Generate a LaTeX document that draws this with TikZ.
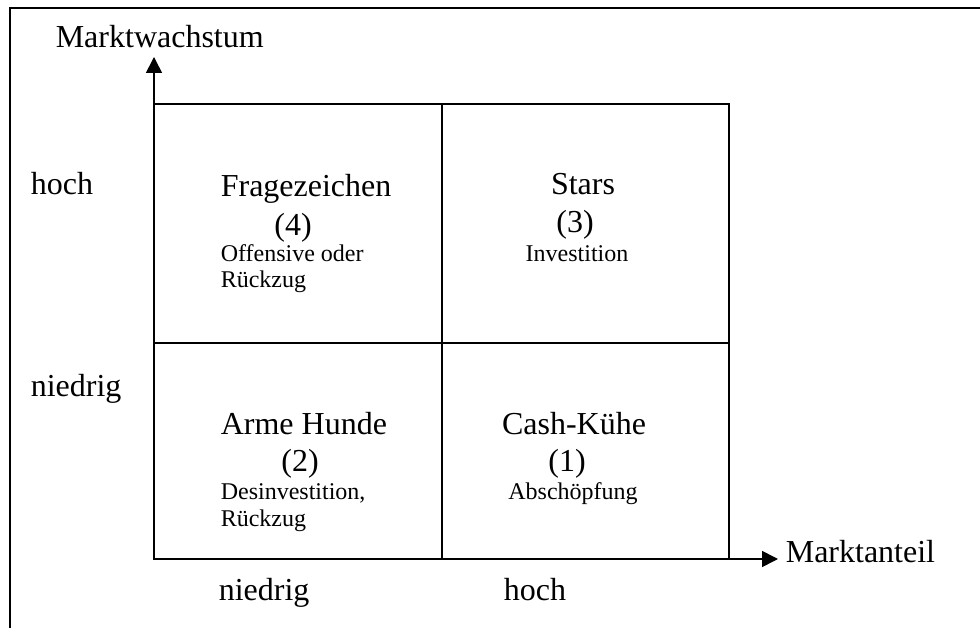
\documentclass[tikz,border=0pt]{standalone}
\usepackage{fontspec}
\setmainfont{Liberation Serif}
\usetikzlibrary{arrows.meta, positioning}

\newcommand{\gross}{\fontsize{32}{38}\selectfont}
\newcommand{\klein}{\fontsize{24}{26}\selectfont}

\begin{document}
\begin{tikzpicture}[x=1pt, y=1pt, line width=1.6pt, >={Triangle[length=16pt, width=16pt]},
    titel/.style={inner sep=0pt, font=\gross},
    notiz/.style={inner sep=0pt, font=\klein}]
    \useasboundingbox (0,0) rectangle (980,628);
    \draw (10,0) |- (980,620);

    % Matrix
    \coordinate (ul) at (154,69);
    \coordinate (or) at (729,524);
    \coordinate (mitte) at (442,285);
    \draw (ul) rectangle (or);
    \draw (mitte |- ul) -- (mitte |- or);
    \draw (ul |- mitte) -- (or |- mitte);

    % Achsen
    \coordinate (ytip) at (154,571);
    \coordinate (xtip) at (778,69);
    \draw[->] (ul) -- (ytip);
    \draw[->] (ul) -- (xtip);
    \node[titel, anchor=base west] (ylabel) at (55,580) {Marktwachstum};
    \node[titel, anchor=base west] (xlabel) at (785,65) {Marktanteil};
    \node[titel, anchor=base west] (yhoch) at (30,433) {hoch};
    \node[titel, anchor=base west] (yniedrig) at (30,231) {niedrig};
    \node[titel, anchor=base west] (xniedrig) at (218,27) {niedrig};
    \node[titel, anchor=base west] (xhoch) at (503,27) {hoch};

    % Felder
    \node[titel, anchor=base west] (frage) at (220,431) {Fragezeichen};
    \node[titel, anchor=base] (frageNr) at (293,392) {(4)};
    \node[notiz, anchor=base west] (frageA) at (220,366) {Offensive oder};
    \node[notiz, anchor=base west] (frageB) at (220,340) {Rückzug};

    \node[titel, anchor=base] (stars) at (583,433) {Stars};
    \node[titel, anchor=base] (starsNr) at (575,395) {(3)};
    \node[notiz, anchor=base] (starsA) at (577,366) {Investition};

    \node[titel, anchor=base west] (hunde) at (220,193) {Arme Hunde};
    \node[titel, anchor=base] (hundeNr) at (300,156) {(2)};
    \node[notiz, anchor=base west] (hundeA) at (220,128) {Desinvestition,};
    \node[notiz, anchor=base west] (hundeB) at (220,101) {Rückzug};

    \node[titel, anchor=base] (kuehe) at (574,193) {Cash-Kühe};
    \node[titel, anchor=base] (kueheNr) at (567,156) {(1)};
    \node[notiz, anchor=base] (kueheA) at (573,128) {Abschöpfung};
\end{tikzpicture}
\end{document}
